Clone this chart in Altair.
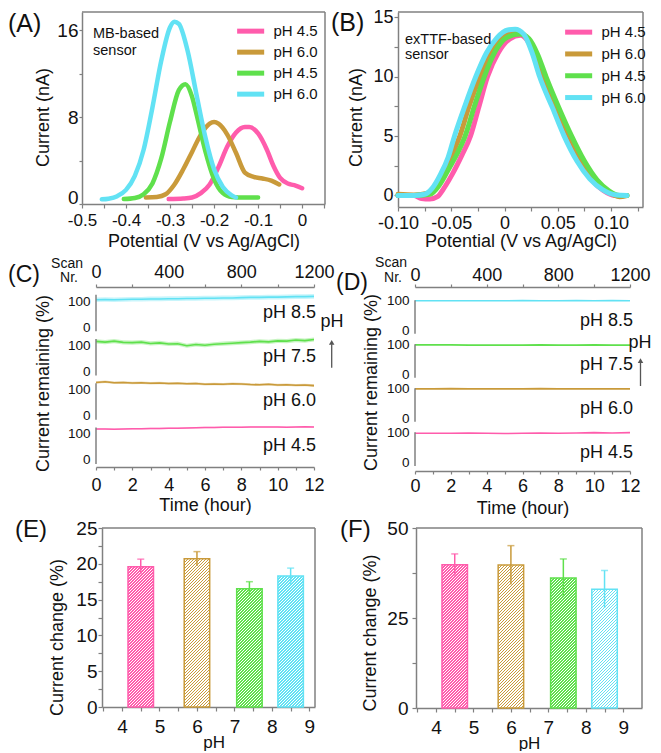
import altair as alt
import pandas as pd

FONT = "Liberation Sans"
PINK, GOLD, GREEN, CYAN = "#ff5cac", "#c99a3a", "#5fe04c", "#62e2f4"
COLS = [PINK, GOLD, GREEN, CYAN]
AX = "#808080"
INK = "#111111"
LEG = ["pH 4.5", "pH 6.0", "pH 4.5 ", "pH 6.0 "]  # last two padded so they stay distinct

# ---------------- (A) MB-based sensor ----------------
a_pink_x = [-0.303, -0.27, -0.25, -0.23, -0.21, -0.19, -0.17, -0.15, -0.13, -0.12, -0.10, -0.08, -0.065, -0.05, -0.03, -0.015, 0.0]
a_pink_y = [0.45, 0.5, 0.6, 1.0, 1.8, 3.4, 5.3, 6.6, 7.1, 7.1, 6.5, 5.0, 3.5, 2.4, 1.85, 1.7, 1.45]
a_gold_x = [-0.355, -0.33, -0.31, -0.29, -0.27, -0.25, -0.23, -0.21, -0.20, -0.19, -0.17, -0.15, -0.13, -0.11, -0.09, -0.07, -0.052]
a_gold_y = [0.6, 0.65, 0.9, 1.8, 3.2, 4.8, 6.4, 7.4, 7.55, 7.4, 6.4, 4.7, 2.9, 2.5, 2.35, 2.15, 1.8]
a_green_x = [-0.405, -0.38, -0.36, -0.34, -0.32, -0.30, -0.28, -0.265, -0.25, -0.24, -0.22, -0.20, -0.18, -0.16, -0.13, -0.10]
a_green_y = [0.45, 0.55, 0.9, 1.9, 4.2, 7.6, 10.5, 11.05, 9.9, 8.3, 4.9, 2.3, 1.0, 0.65, 0.6, 0.6]
a_cyan_x = [-0.455, -0.44, -0.42, -0.40, -0.38, -0.36, -0.34, -0.32, -0.30, -0.29, -0.28, -0.26, -0.24, -0.22, -0.20, -0.18, -0.16, -0.15]
a_cyan_y = [0.43, 0.49, 0.72, 1.3, 2.6, 5.0, 8.9, 13.2, 16.3, 16.8, 16.6, 14.1, 10.1, 6.2, 3.2, 1.57, 0.8, 0.6]

# ---------------- (B) exTTF-based sensor ----------------
b_pink_x = [-0.100, -0.085, -0.078, -0.070, -0.063, -0.057, -0.049, -0.040, -0.032, -0.024, -0.016, -0.006, 0.005, 0.015, 0.022, 0.029, 0.036, 0.047, 0.058, 0.070, 0.082, 0.093, 0.103, 0.113]
b_pink_y = [0.0, 0.0, -0.25, -0.3, -0.1, 0.6, 1.8, 3.4, 5.0, 7.5, 10.0, 12.0, 13.2, 13.5, 13.0, 11.8, 10.0, 7.4, 5.0, 2.8, 1.3, 0.4, 0.0, 0.0]
b_gold_x = [-0.100, -0.085, -0.072, -0.064, -0.056, -0.049, -0.042, -0.033, -0.023, -0.013, -0.002, 0.011, 0.020, 0.028, 0.037, 0.049, 0.061, 0.072, 0.084, 0.096, 0.108, 0.115]
b_gold_y = [0.1, 0.05, 0.2, 0.9, 2.2, 3.5, 5.0, 7.6, 10.0, 12.0, 13.3, 13.8, 13.4, 12.0, 10.0, 7.4, 5.0, 3.0, 1.4, 0.4, -0.1, 0.0]
b_green_x = [-0.100, -0.085, -0.070, -0.061, -0.052, -0.044, -0.037, -0.028, -0.019, -0.009, 0.002, 0.014, 0.023, 0.031, 0.039, 0.051, 0.063, 0.075, 0.087, 0.098, 0.108, 0.115]
b_green_y = [0.0, 0.0, 0.1, 0.9, 2.3, 3.6, 5.0, 7.6, 10.0, 12.1, 13.3, 13.6, 13.2, 11.9, 10.0, 7.4, 5.0, 2.9, 1.3, 0.4, 0.0, 0.0]
b_cyan_x = [-0.100, -0.085, -0.075, -0.068, -0.060, -0.053, -0.047, -0.037, -0.027, -0.017, -0.007, 0.003, 0.010, 0.018, 0.026, 0.033, 0.045, 0.056, 0.068, 0.080, 0.092, 0.105, 0.115]
b_cyan_y = [0.0, 0.0, 0.1, 0.6, 1.8, 3.2, 5.0, 7.6, 10.0, 12.0, 13.3, 13.95, 14.0, 13.6, 12.0, 10.0, 7.4, 5.0, 2.9, 1.4, 0.5, 0.05, 0.0]

# ---------------- (C) MB-based, current remaining (%) ----------------
c_hours = [0, 0.5, 1, 1.5, 2, 2.5, 3, 3.5, 4, 4.5, 5, 5.5, 6, 6.5, 7, 7.5, 8, 8.5, 9, 9.5, 10, 10.5, 11, 11.5, 12]
c_pink = [119, 119, 118, 119, 120, 120, 121, 121, 122, 122, 123, 124, 125, 125, 126, 126, 126, 127, 127, 127, 127, 126, 127, 128, 127]
c_gold = [128, 131, 127, 128, 126, 127, 125, 126, 124, 125, 123, 124, 121, 122, 121, 123, 122, 120, 119, 121, 118, 119, 117, 118, 116]
c_green = [116, 113, 117, 112, 111, 113, 108, 110, 106, 107, 99, 104, 101, 105, 107, 109, 111, 113, 116, 114, 118, 117, 121, 119, 123]
c_cyan = [106, 107, 106, 107, 108, 108, 109, 109, 110, 110, 111, 111, 112, 112, 113, 113, 114, 115, 115, 116, 116, 117, 118, 118, 119]
c_err = [3, 5, 8, 9]

# ---------------- (D) exTTF-based, current remaining (%) ----------------
d_hours = [0, 1, 2, 3, 4, 5, 6, 7, 8, 9, 10, 11, 12]
d_pink = [99, 99, 99, 100, 99, 98, 99, 100, 99, 100, 101, 100, 101]
d_gold = [100, 100, 101, 100, 100, 100, 100, 101, 100, 100, 100, 100, 100]
d_green = [100, 100, 100, 99, 99, 99, 99, 100, 99, 99, 100, 99, 99]
d_cyan = [100, 100, 100, 100, 100, 100, 101, 100, 100, 101, 100, 101, 100]
d_err = [0, 0, 0, 0]

ph_labels = ["pH 4.5", "pH 6.0", "pH 7.5", "pH 8.5"]
scan_range = [0, 1200]

# ---------------- (E), (F) current change (%) ----------------
bar_ph = [4.5, 6.0, 7.4, 8.5]
e_val = [19.6, 20.7, 16.5, 18.3]
e_err = [1.05, 1.0, 1.0, 1.1]
f_val = [39.8, 39.7, 36.1, 33.0]
f_err = [3.0, 5.4, 5.3, 5.2]
BAR_HALF = 0.34


# ---------------- helpers ----------------
def lines_df(series):
    rows = []
    for name, xs, ys in series:
        for i, (x, y) in enumerate(zip(xs, ys)):
            rows.append({"x": x, "y": y, "s": name, "i": i})
    return pd.DataFrame(rows)


def frame(xd, yd, xs, ys, xa, ya):
    # top and right edges of the box (left/bottom are the axes)
    df = pd.DataFrame({"x0": [xd[0], xd[1]], "x1": [xd[1], xd[1]],
                       "y0": [yd[1], yd[0]], "y1": [yd[1], yd[1]]})
    return alt.Chart(df).mark_rule(color=AX, strokeWidth=1.5).encode(
        x=alt.X("x0:Q", scale=xs, axis=xa), x2="x1:Q",
        y=alt.Y("y0:Q", scale=ys, axis=ya), y2="y1:Q")


def note(text, x, y, size, align="left", baseline="middle", **kw):
    return alt.Chart(pd.DataFrame({"t": [text]})).mark_text(
        align=align, baseline=baseline, fontSize=size, font=FONT, color=INK, **kw
    ).encode(x=alt.value(x), y=alt.value(y), text="t:N")


def legend(x, y, row_pad):
    return alt.Legend(orient="none", legendX=x, legendY=y, title=None,
                      symbolType="M-2.31,0H2.31", symbolSize=137, symbolStrokeWidth=5,
                      symbolOffset=5.15, labelFontSize=15, labelOffset=14.3,
                      rowPadding=row_pad, padding=0, labelFont=FONT, labelColor=INK)


def arrow(x, y_tip, y_end):
    head = alt.Chart(pd.DataFrame({"a": [0]})).mark_point(
        shape="triangle-up", filled=True, size=30, color="#555555", opacity=1
    ).encode(x=alt.value(x), y=alt.value(y_tip + 3))
    stem = alt.Chart(pd.DataFrame({"a": [0]})).mark_rule(color="#555555", strokeWidth=1.3).encode(
        x=alt.value(x), y=alt.value(y_tip + 5), y2=alt.value(y_end))
    return [stem, head]


def hatch(color, w, h, period=3.0, duty=0.5):
    total = w + h
    k = total / (w * w + h * h)
    stops = []
    n = int(total / period) + 2
    for i in range(n):
        a = i * period / total
        b = (i * period + duty * period) / total
        c = (i + 1) * period / total
        for off, col in ((a, color), (b, color), (b, "#ffffff"), (c, "#ffffff")):
            stops.append({"offset": round(min(off, 1.0), 5), "color": col})
    return {"gradient": "linear", "x1": 0, "y1": 0, "x2": round(k * w, 5), "y2": round(k * h, 5), "stops": stops}


# ---------------- panel A ----------------
A_XD, A_YD = [-0.5, 0.052], [0, 17.7]
A_X = alt.Scale(domain=A_XD, nice=False, zero=False)
A_Y = alt.Scale(domain=A_YD, nice=False, zero=False)
A_XA = alt.Axis(values=[round(-0.5 + 0.05 * i, 2) for i in range(12)],
                labelExpr="round(datum.value*100) % 10 != 0 ? '' : (round(datum.value*100) == 0 ? '0' : (datum.value < 0 ? '-' : '') + format(abs(datum.value), '.1f'))",
                tickSize=4, labelPadding=4, labelFontSize=17,
                title="Potential (V vs Ag/AgCl)", titleFontSize=18, titleY=37.5, titleBaseline="middle")
A_YA = alt.Axis(values=[0, 4, 8, 12, 16], labelExpr="datum.value % 8 == 0 ? datum.label : ''",
                labelOffset={"condition": {"test": "datum.value == 0", "value": -6.5}, "value": 0},
                tickSize=3, labelPadding=1, labelFontSize=19,
                title="Current (nA)", titleFontSize=18, titleAngle=270, titleX=-38.5, titleY=105,
                titleBaseline="middle", titleAlign="center")
a_lines = alt.Chart(lines_df([
    (LEG[0], a_pink_x, a_pink_y), (LEG[1], a_gold_x, a_gold_y),
    (LEG[2], a_green_x, a_green_y), (LEG[3], a_cyan_x, a_cyan_y)])).mark_line(
    strokeWidth=4.5, interpolate="monotone", strokeCap="round").encode(
    x=alt.X("x:Q", scale=A_X, axis=A_XA),
    y=alt.Y("y:Q", scale=A_Y, axis=A_YA),
    color=alt.Color("s:N", scale=alt.Scale(domain=LEG, range=COLS), legend=legend(155, 10.65, 0)),
    order="i:Q")
A = alt.layer(frame(A_XD, A_YD, A_X, A_Y, A_XA, A_YA), a_lines,
              note("MB-based\nsensor", 11, 15, 14.5, baseline="top", lineBreak="\n", lineHeight=16.5),
              note("(A)", -74, 11.5, 25)).properties(width=243, height=192)

# ---------------- panel B ----------------
B_XD, B_YD = [-0.1, 0.13], [-0.97, 15.46]
B_X = alt.Scale(domain=B_XD, nice=False, zero=False)
B_Y = alt.Scale(domain=B_YD, range=[195, 0], nice=False, zero=False)
B_XA = alt.Axis(values=[round(-0.1 + 0.025 * i, 3) for i in range(10)],
                labelExpr="round(datum.value*1000) % 50 != 0 ? '' : (round(datum.value*1000) == 0 ? '0' : (datum.value < 0 ? '-' : '') + format(abs(datum.value), '.2f'))",
                tickSize=4, labelPadding=3, labelFontSize=18, offset=-23,
                title="Potential (V vs Ag/AgCl)", titleFontSize=18, titleY=34.5, titleBaseline="middle")
B_YA = alt.Axis(values=[0, 2.5, 5, 7.5, 10, 12.5, 15], labelExpr="datum.value % 5 == 0 ? format(datum.value, 'd') : ''",
                tickSize=4, labelPadding=1, labelFontSize=18,
                title="Current (nA)", titleFontSize=18, titleAngle=270, titleX=-41.5, titleY=105,
                titleBaseline="middle", titleAlign="center")
b_lines = alt.Chart(lines_df([
    (LEG[0], b_pink_x, b_pink_y), (LEG[1], b_gold_x, b_gold_y),
    (LEG[2], b_green_x, b_green_y), (LEG[3], b_cyan_x, b_cyan_y)])).mark_line(
    strokeWidth=5, interpolate="monotone", strokeCap="round").encode(
    x=alt.X("x:Q", scale=B_X, axis=B_XA),
    y=alt.Y("y:Q", scale=B_Y, axis=B_YA),
    color=alt.Color("s:N", scale=alt.Scale(domain=LEG, range=COLS), legend=legend(167, 11.65, 0.8)),
    order="i:Q")
B = alt.layer(frame(B_XD, B_YD, B_X, B_Y, B_XA, B_YA), b_lines,
              note("exTTF-based\nsensor", 7, 21, 14.5, baseline="top", lineBreak="\n", lineHeight=15),
              note("(B)", -67, 10.5, 25)).properties(width=245, height=218)


# ---------------- panels C, D ----------------
def stack_panel(hours, vals_list, errs, off, x_range, ydom, width, height, axis_offset, seg,
                lab_y, lab_dx, ytitle_x, ytitle_y, bot_pad, top_pad, time_title_y, band, notes):
    T = alt.Scale(domain=[0, 12], range=x_range, nice=False, zero=False)
    S = alt.Scale(domain=scan_range, range=x_range, nice=False, zero=False)
    Y = alt.Scale(domain=ydom, nice=False, zero=False)
    rows = []
    for k, (vals, err) in enumerate(zip(vals_list, errs)):
        for t, v in zip(hours, vals):
            rows.append({"t": t, "y": v + off * k, "lo": v - err + off * k, "hi": v + err + off * k,
                         "col": COLS[k], "k": k})
    df = pd.DataFrame(rows)
    ya = alt.Axis(values=[off * k + v for k in range(4) for v in (0, 100)],
                  labelExpr=f"datum.value % {off} == 0 ? '0' : '100'",
                  domain=False, ticks=False, labelPadding=6, labelFontSize=13.5, offset=axis_offset,
                  title="Current remaining (%)", titleFontSize=18, titleAngle=270,
                  titleX=ytitle_x, titleY=ytitle_y, titleBaseline="middle", titleAlign="center")
    xa = alt.Axis(values=list(range(13)), labelExpr="datum.value % 2 == 0 ? datum.label : ''",
                  tickSize=3, labelPadding=bot_pad, labelFontSize=18, domain=True,
                  title="Time (hour)", titleFontSize=18, titleY=time_title_y, titleBaseline="middle")
    layers = []
    if band:
        layers.append(alt.Chart(df).mark_area(opacity=0.35).encode(
            x=alt.X("t:Q", scale=T, axis=xa), y=alt.Y("lo:Q", scale=Y, axis=ya), y2="hi:Q",
            color=alt.Color("col:N", scale=None), detail="k:N"))
    layers.append(alt.Chart(df).mark_line(strokeWidth=1.6).encode(
        x=alt.X("t:Q", scale=T, axis=xa), y=alt.Y("y:Q", scale=Y, axis=ya),
        color=alt.Color("col:N", scale=None), detail="k:N"))
    segdf = pd.DataFrame({"t": [0] * 4, "a": [seg[0] + off * k for k in range(4)],
                          "b": [seg[1] + off * k for k in range(4)]})
    layers.append(alt.Chart(segdf).mark_rule(color=AX, strokeWidth=1.5).encode(
        x=alt.X("t:Q", scale=T, axis=xa), y=alt.Y("a:Q", scale=Y, axis=ya), y2="b:Q"))
    labdf = pd.DataFrame({"t": [12] * 4, "y": [lab_y + off * k for k in range(4)], "lab": ph_labels})
    layers.append(alt.Chart(labdf).mark_text(align="right", baseline="middle", fontSize=18,
                                             dx=lab_dx, font=FONT, color=INK).encode(
        x=alt.X("t:Q", scale=T, axis=xa), y=alt.Y("y:Q", scale=Y, axis=ya), text="lab:N"))
    layers += notes
    inner = alt.layer(*layers)
    scan = alt.Chart(pd.DataFrame({"scan": scan_range})).mark_point(opacity=0).encode(
        x=alt.X("scan:Q", scale=S, axis=alt.Axis(
            orient="top", values=[0, 200, 400, 600, 800, 1000, 1200], format="d",
            labelExpr="datum.value % 400 == 0 ? datum.label : ''", tickSize=3,
            labelPadding=top_pad, labelFontSize=18, title=None, domain=True)))
    return alt.layer(inner, scan).resolve_scale(x="independent").properties(width=width, height=height)


C = stack_panel(c_hours, [c_pink, c_gold, c_green, c_cyan], c_err, 170, [14, 232], [-27, 665],
                232, 180, -14, [-15, 125], 55, 2, -53, 96, 6, 3, 38, True,
                [note("(C)", -74, -12, 23), note("Scan", 1, -23.5, 14, align="right"),
                 note("Nr.", -4, -9, 14, align="right"), note("pH", 250, 35, 18, align="center")]
                + arrow(249.7, 52.3, 80.7))
D = stack_panel(d_hours, [d_pink, d_gold, d_green, d_cyan], d_err, 147, [17, 232], [-27, 587],
                232, 184, -17, [-10, 102], 33, 3, -44, 95, 3, 0, 37, False,
                [note("(D)", -62, -4, 23), note("Scan", 9, -24, 14, align="right"),
                 note("Nr.", 4, -9.5, 14, align="right"), note("pH", 242, 56, 18, align="center")]
                + arrow(242.5, 70.7, 99))


# ---------------- panels E, F ----------------
def bar_panel(vals, errs, xdom, x_range, ydom, yvals, ymod, width, height, yoff, ypad,
              ytitle_x, ytitle_y, xtitle_x, letter, letter_x):
    X = alt.Scale(domain=xdom, range=x_range, nice=False, zero=False)
    Y = alt.Scale(domain=ydom, nice=False, zero=False)
    kx = (x_range[1] - x_range[0]) / (xdom[1] - xdom[0])
    ky = height / (ydom[1] - ydom[0])
    xa = alt.Axis(values=[3.5 + 0.5 * i for i in range(12)],
                  labelExpr="datum.value % 1 == 0 ? format(datum.value, 'd') : ''",
                  tickSize=4, labelPadding=6, labelFontSize=19,
                  title="pH", titleFontSize=17, titleX=xtitle_x, titleY=35, titleBaseline="middle")
    ya = alt.Axis(values=yvals, labelExpr=f"datum.value % {ymod} == 0 ? format(datum.value, 'd') : ''",
                  tickSize=4, labelPadding=ypad, labelFontSize=19, offset=yoff,
                  title="Current change (%)", titleFontSize=18, titleAngle=270,
                  titleX=ytitle_x, titleY=ytitle_y, titleBaseline="middle", titleAlign="center")
    layers = [frame(xdom, ydom, X, Y, xa, ya)]
    for p, v, c in zip(bar_ph, vals, COLS):
        df = pd.DataFrame({"x0": [p - BAR_HALF], "x1": [p + BAR_HALF], "v": [v], "z": [0]})
        layers.append(alt.Chart(df).mark_bar(
            fill=hatch(c, 2 * BAR_HALF * kx, v * ky), stroke=c, strokeWidth=1.5).encode(
            x=alt.X("x0:Q", scale=X, axis=xa), x2="x1:Q",
            y=alt.Y("v:Q", scale=Y, axis=ya), y2="z:Q"))
    edf = pd.DataFrame({"p": bar_ph, "lo": [v - e for v, e in zip(vals, errs)],
                        "hi": [v + e for v, e in zip(vals, errs)], "col": COLS})
    layers.append(alt.Chart(edf).mark_rule(strokeWidth=1.5).encode(
        x=alt.X("p:Q", scale=X, axis=xa), y=alt.Y("lo:Q", scale=Y, axis=ya), y2="hi:Q",
        color=alt.Color("col:N", scale=None)))
    layers.append(alt.Chart(edf).mark_tick(orient="horizontal", size=7, thickness=1.5).encode(
        x=alt.X("p:Q", scale=X, axis=xa), y=alt.Y("hi:Q", scale=Y, axis=ya),
        color=alt.Color("col:N", scale=None)))
    layers.append(note(letter, letter_x, 2, 24))
    return alt.layer(*layers).properties(width=width, height=height)


E = bar_panel(e_val, e_err, [3.466, 9.15], [20, 233], [0, 25], [i * 2.5 for i in range(11)], 5,
              233, 179, -20, 1, -44.5, 109, 131.7, "(E)", -67)
F = bar_panel(f_val, f_err, [3.466, 9.5], [18, 244], [0, 50], [0, 12.5, 25, 37.5, 50], 25,
              244, 180, -18, 4, -45.5, 104.5, 131, "(F)", -58)

chart = alt.concat(A, B, C, D, E, F, columns=2, spacing={"row": 57, "column": 73},
                   bounds="flush").resolve_scale(color="independent").properties(
    padding=0
).configure(font=FONT).configure_axis(
    labelFont=FONT, titleFont=FONT, labelColor=INK, titleColor=INK, titleFontWeight="normal",
    tickColor=AX, domainColor=AX, tickWidth=1.2, domainWidth=1.5, grid=False,
    labelFlush=False, labelOverlap=False
).configure_view(stroke=None).configure_legend(labelFont=FONT, labelColor=INK)

chart.save("out.html", embed_options={"renderer": "svg", "actions": False})
